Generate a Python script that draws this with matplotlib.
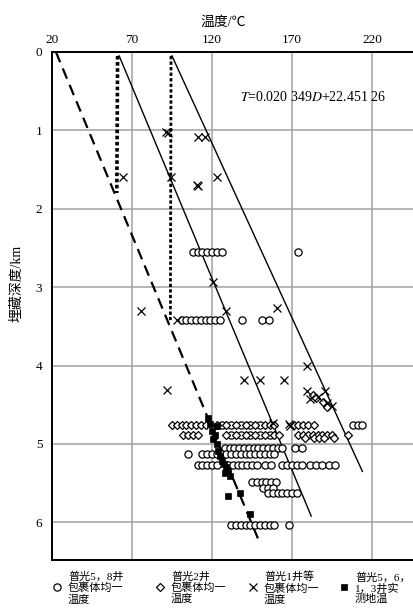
#!/usr/bin/env python3
# -*- coding: utf-8 -*-
# Burial depth vs. temperature, Puguang wells
import matplotlib
matplotlib.use('Agg')
import matplotlib.pyplot as plt

plt.rcParams['font.family'] = ['Liberation Serif', 'Noto Sans CJK SC']
plt.rcParams['mathtext.fontset'] = 'stix'

#%% Data (temperature in degC, depth in km)

# 普光5，8井 包裹体均一温度 (circles)
circ_T = [108, 111, 114, 117, 120, 123, 126, 174,
          101, 104, 107, 110, 113, 116, 119, 122, 125, 138.5, 151.5, 155.5,
          208, 211, 214, 126, 132, 138, 144, 150,
          132, 138, 144, 150, 156,
          128, 131, 134, 137, 140, 143, 146, 149, 152, 155, 158, 161, 164, 172, 176,
          105, 114, 117, 120, 123, 126, 129, 132, 135, 138, 141, 144, 147, 150, 153, 156, 159,
          111, 114, 117, 120, 123, 130, 133, 136, 139, 142, 145, 148, 153, 157,
          164, 167, 170, 173, 176, 181, 185, 189, 193, 197,
          145, 148, 151, 154, 157, 160,
          152, 155, 158,
          155, 158, 161, 164, 167, 170, 173,
          132, 135, 138, 141, 144, 147, 150, 153, 156, 159, 168]
circ_D = [2.55] * 8 + [3.42] * 12 + [4.76] * 8 + [4.89] * 5 + [5.05] * 15 + \
         [5.13] * 17 + [5.27] * 24 + [5.49] * 6 + [5.56] * 3 + [5.63] * 7 + [6.03] * 11

# 普光2井 包裹体均一温度 (diamonds)
diam_T = [183, 185, 189.5, 192,
          95, 98, 101, 104, 107, 110, 113, 116, 123, 129, 135, 141, 147, 153, 156, 159,
          171, 174, 177, 180, 184,
          102, 105, 108, 111, 129, 135, 141, 147, 153, 159, 162,
          174, 177, 180, 183, 186, 189, 192, 195, 205,
          178, 184, 187, 190, 196]
diam_D = [4.38, 4.41, 4.47, 4.53] + [4.76] * 21 + [4.89] * 20 + [4.93] * 5

# 普光1井等 包裹体均一温度 (crosses)
cross_T = [91.5, 92.5, 64.5, 94.4, 110.5, 111.5, 111.5, 115.5, 123,
           75.4, 120.8, 128.7, 160.4, 97.9, 92,
           140.2, 150, 165.2, 179.6, 179.6, 181, 190.6, 191.7, 194.8, 186,
           168, 168.5, 158]
cross_D = [1.02, 1.03, 1.6, 1.59, 1.70, 1.71, 1.08, 1.08, 1.6,
           3.31, 2.93, 3.30, 3.27, 3.42, 4.31,
           4.19, 4.19, 4.19, 4.01, 4.33, 4.42, 4.33, 4.48, 4.52, 4.40,
           4.75, 4.77, 4.73]

# 普光5，6，1，3井实测地温 (squares)
sq_T = [117.7, 118.8, 122.9, 119.8, 121.9, 120.8, 122.9, 124, 125, 126, 127.7,
        129, 128, 130, 131, 130.2, 137.5, 143.8]
sq_D = [4.67, 4.75, 4.77, 4.84, 4.88, 4.94, 5.0, 5.09, 5.15, 5.22, 5.26,
        5.3, 5.37, 5.35, 5.41, 5.66, 5.62, 5.89]

# fitted line T = 0.020349 D(m) + 22.45126
fit_D = [0.0, 6.25]
fit_T = [22.45126, 0.020349 * 6250 + 22.45126]

# two solid gradient lines
line1_T = [62, 182]
line1_D = [0.05, 5.92]
line2_T = [95, 214]
line2_D = [0.05, 5.35]

# thick dotted verticals
dot1_T = [61, 60.5]
dot1_D = [0.05, 1.8]
dot2_T = [94.4, 94]
dot2_D = [0.05, 3.42]

x_ticks = [20, 70, 120, 170, 220]
y_ticks = [0, 1, 2, 3, 4, 5, 6]

legend_labels = ['普光5，8井\n包裹体均一\n温度',
                 '普光2井\n包裹体均一\n温度',
                 '普光1井等\n包裹体均一\n温度',
                 '普光5，6，\n1，3井实\n测地温']

STYLES = [dict(marker='o', ms=5.2, mfc='white', mec='black', mew=0.9, ls='none'),
          dict(marker='D', ms=3.9, mfc='white', mec='black', mew=0.9, ls='none'),
          dict(marker='x', ms=5.5, mec='black', mew=0.9, ls='none'),
          dict(marker='s', ms=4.2, mfc='black', mec='black', mew=0.5, ls='none')]

#%% Plot
W, H = 413, 615
fig = plt.figure(figsize=(W / 100, H / 100), dpi=100)
ax = fig.add_axes([52 / W, 1 - 560 / H, 1 - 52 / W, 508 / H])

ax.set_xlim(20, 20 + (W - 52) / 1.6)
ax.set_ylim(6.48, 0)
ax.set_xticks(x_ticks)
ax.set_yticks(y_ticks)
ax.xaxis.tick_top()
ax.tick_params(length=0, labelsize=9.5, pad=4)
ax.tick_params(axis='y', pad=7)
ax.grid(True, color='#a0a0a0', lw=1.1)
ax.set_axisbelow(True)
for s in ['top', 'left', 'bottom']:
    ax.spines[s].set_linewidth(1.4)
ax.spines['right'].set_visible(False)

ax.plot(fit_T, fit_D, color='black', lw=1.6, ls=(0, (5, 3)))
ax.plot(line1_T, line1_D, color='black', lw=1.0)
ax.plot(line2_T, line2_D, color='black', lw=1.0)
ax.plot(dot1_T, dot1_D, color='black', lw=2.6, ls=(0, (1, 0.7)))
ax.plot(dot2_T, dot2_D, color='black', lw=2.0, ls=(0, (1.2, 0.8)))

ax.plot(circ_T, circ_D, **STYLES[0])
ax.plot(diam_T, diam_D, **STYLES[1])
ax.plot(cross_T, cross_D, **STYLES[2])
ax.plot(sq_T, sq_D, **STYLES[3])

ax.text(137.5, 0.57, r'$\it{T}$=0.020 349$\it{D}$+22.451 26', fontsize=10,
        va='center', ha='left')

fig.text(223 / W, 1 - 22 / H, '温度/℃', fontsize=10, ha='center', va='center')
fig.text(17 / W, 1 - 283 / H, '埋藏深度/km', fontsize=10, ha='center',
         va='center', rotation=90)

# legend row under the axes
lax = fig.add_axes([0, 0, 1, 1])
lax.axis('off')
lax.set_xlim(0, W)
lax.set_ylim(H, 0)
leg_x = [57, 160, 253, 344]
for i, lbl in enumerate(legend_labels):
    lax.plot([leg_x[i]], [587], **STYLES[i])
    lax.text(leg_x[i] + 11, 588, lbl, fontsize=8, va='center', ha='left',
             linespacing=1.05)

fig.savefig('out.png', dpi=100)
